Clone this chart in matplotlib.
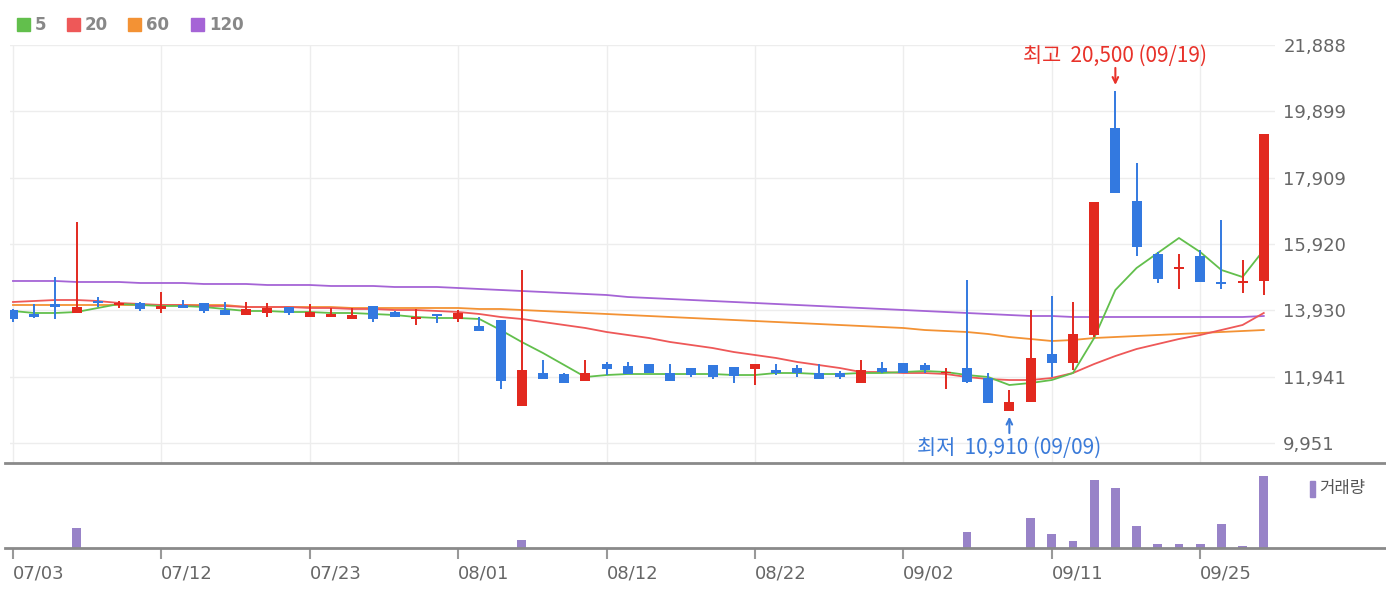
import matplotlib.pyplot as plt
from matplotlib.patches import Rectangle
from matplotlib.lines import Line2D

# daily candles, 2024-07-03 .. 2024-09-30
dates = ['07/03', '07/04', '07/05', '07/08', '07/09', '07/10', '07/11', '07/12', '07/15', '07/16',
         '07/17', '07/18', '07/19', '07/22', '07/23', '07/24', '07/25', '07/26', '07/29', '07/30',
         '07/31', '08/01', '08/02', '08/05', '08/06', '08/07', '08/08', '08/09', '08/12', '08/13',
         '08/14', '08/16', '08/19', '08/20', '08/21', '08/22', '08/23', '08/26', '08/27', '08/28',
         '08/29', '08/30', '09/02', '09/03', '09/04', '09/05', '09/06', '09/09', '09/10', '09/11',
         '09/12', '09/13', '09/19', '09/20', '09/23', '09/24', '09/25', '09/26', '09/27', '09/30']

opens = [13940, 13820, 14120, 13850, 14210, 14090, 14150, 13970, 14090, 14150,
         13940, 13790, 13850, 14030, 13730, 13730, 13670, 14060, 13880, 13670,
         13820, 13670, 13460, 13640, 11060, 12050, 12020, 11810, 12320, 12260,
         12320, 12050, 12200, 12290, 12230, 12170, 12140, 12200, 12050, 12050,
         11750, 12200, 12350, 12290, 12050, 12200, 11900, 10910, 11180, 12620,
         12350, 13190, 19400, 17210, 15620, 15170, 15560, 14780, 14750, 14810]
highs = [13960, 14120, 14930, 16580, 14330, 14210, 14180, 14480, 14240, 14150,
         14180, 14180, 14150, 14030, 14120, 14000, 14000, 14060, 13910, 13970,
         13820, 13940, 13730, 13640, 15140, 12440, 12050, 12440, 12380, 12380,
         12320, 12320, 12200, 12290, 12230, 12320, 12320, 12290, 12320, 12110,
         12440, 12380, 12350, 12350, 12200, 14840, 12050, 11540, 13940, 14360,
         14180, 17180, 20500, 18350, 15680, 15620, 15740, 16640, 15440, 19220]
lows = [13580, 13700, 13670, 13850, 14030, 14000, 13910, 13850, 14000, 13850,
        13790, 13790, 13730, 13790, 13730, 13730, 13670, 13580, 13730, 13490,
        13550, 13580, 13310, 11570, 11060, 11870, 11750, 11810, 11990, 12020,
        12050, 11810, 11930, 11870, 11750, 11690, 11990, 11930, 11870, 11870,
        11750, 12050, 12050, 12050, 11570, 11750, 11150, 10910, 11180, 11930,
        12140, 13130, 17450, 15560, 14750, 14570, 14780, 14570, 14450, 14390]
closes = [13670, 13730, 14030, 14030, 14150, 14150, 13970, 14060, 14000, 13910,
          13790, 13970, 14000, 13850, 13880, 13820, 13790, 13670, 13730, 13700,
          13760, 13850, 13310, 11810, 12140, 11870, 11750, 12050, 12170, 12020,
          12050, 11810, 11990, 11930, 11960, 12320, 12050, 12050, 11870, 11930,
          12140, 12080, 12050, 12140, 12080, 11780, 11150, 11180, 12500, 12350,
          13220, 17180, 17450, 15830, 14870, 15230, 14780, 14720, 14780, 19220]
volumes = [1500, 1500, 1500, 200000, 1500, 1500, 1500, 1500, 1500, 1500,
           1500, 1500, 1500, 1500, 1500, 1500, 1500, 1500, 1500, 1500,
           1500, 1500, 1500, 1500, 80000, 1500, 1500, 1500, 1500, 1500,
           1500, 1500, 1500, 1500, 1500, 1500, 1500, 1500, 1500, 1500,
           1500, 1500, 1500, 1500, 1500, 165000, 1500, 1500, 305000, 143000,
           66000, 680000, 600000, 220000, 43000, 43000, 43000, 240000, 23000, 720000]

ma5 = [13910, 13850, 13850, 13880, 14000, 14120, 14090, 14060, 14060, 14030,
       13970, 13910, 13910, 13880, 13880, 13850, 13850, 13820, 13790, 13730,
       13700, 13700, 13670, 13340, 12980, 12650, 12290, 11930, 11990, 12020,
       12020, 12020, 12020, 12020, 11990, 11990, 12050, 12050, 12020, 12020,
       12050, 12050, 12080, 12110, 12080, 11990, 11930, 11690, 11750, 11840,
       12050, 13100, 14540, 15200, 15650, 16100, 15680, 15140, 14930, 15740]
ma20 = [14180, 14210, 14240, 14240, 14210, 14150, 14120, 14090, 14090, 14060,
        14060, 14030, 14030, 14030, 14000, 14000, 13970, 13970, 13940, 13940,
        13910, 13880, 13820, 13730, 13670, 13580, 13490, 13400, 13280, 13190,
        13100, 12980, 12890, 12800, 12680, 12590, 12500, 12380, 12290, 12200,
        12080, 12080, 12050, 12050, 12020, 11930, 11870, 11840, 11840, 11900,
        12050, 12320, 12560, 12770, 12920, 13070, 13190, 13340, 13490, 13850]
ma60 = [14090, 14090, 14090, 14090, 14090, 14090, 14090, 14090, 14090, 14090,
        14090, 14030, 14030, 14030, 14030, 14030, 14000, 14000, 14000, 14000,
        14000, 14000, 13970, 13970, 13940, 13910, 13880, 13850, 13820, 13790,
        13760, 13730, 13700, 13670, 13640, 13610, 13580, 13550, 13520, 13490,
        13460, 13430, 13400, 13340, 13310, 13280, 13220, 13130, 13070, 13010,
        13040, 13100, 13130, 13160, 13190, 13220, 13250, 13280, 13310, 13340]
ma120 = [14810, 14810, 14810, 14780, 14780, 14780, 14750, 14750, 14750, 14720,
         14720, 14720, 14690, 14690, 14690, 14660, 14660, 14660, 14630, 14630,
         14630, 14600, 14570, 14540, 14510, 14480, 14450, 14420, 14390, 14330,
         14300, 14270, 14240, 14210, 14180, 14150, 14120, 14090, 14060, 14030,
         14000, 13970, 13940, 13910, 13880, 13850, 13820, 13790, 13760, 13760,
         13730, 13730, 13730, 13730, 13730, 13730, 13730, 13730, 13730, 13760]

yticks = [9951, 11941, 13930, 15920, 17909, 19899, 21888]
ma_labels = ['5', '20', '60', '120']
ma_colors = ['#62bf4c', '#ee5858', '#f39234', '#a564d6']

UP, DOWN = '#e2291f', '#3379e0'
W, H = 1386, 594


def fx(px):
    return px / W


def fy(py):
    return 1 - py / H


fig = plt.figure(figsize=(W / 100, H / 100), dpi=100)
ax = fig.add_axes([fx(10), fy(463), fx(1275) - fx(10), fy(45) - fy(463)])
axv = fig.add_axes([fx(10), fy(548), fx(1275) - fx(10), fy(463) - fy(548)])

xs = list(range(len(dates)))
xlim = (-0.14, len(dates) - 0.47)

# moving averages (under the candles)
for vals, c in zip([ma120, ma60, ma20, ma5], ma_colors[::-1]):
    ax.plot(xs, vals, color=c, lw=1.3, zorder=2)

# candles
for i in xs:
    o, h, l, c = opens[i], highs[i], lows[i], closes[i]
    col = UP if c >= o else DOWN
    ax.vlines(i, l, h, color=col, lw=1.4, zorder=3)
    body = max(abs(c - o), 45)
    ax.bar(i, body, bottom=min(o, c), width=0.47, color=col, zorder=4)

ax.set_xlim(*xlim)
ax.set_ylim(9351, 21888)
ax.set_yticks(yticks)
ax.set_yticklabels([f'{v:,}' for v in yticks])
ax.yaxis.tick_right()
ax.tick_params(axis='y', length=0, pad=6, labelsize=13, labelcolor='#666666')
ticks = xs[::7]
ax.set_xticks(ticks)
ax.tick_params(axis='x', length=0, labelbottom=False)
ax.grid(color='#ededed', lw=1)
ax.set_axisbelow(True)
for s in ax.spines.values():
    s.set_visible(False)

# high / low notes
hi = highs.index(max(highs))
lo = lows.index(min(lows))
kfont = ['Noto Sans CJK KR', 'DejaVu Sans']
ax.text(hi, 21560, f'최고  {highs[hi]:,} ({dates[hi]})', color='#e8322a', fontsize=15,
        family=kfont, ha='center', va='center', clip_on=False)
ax.annotate('', xy=(hi, 20690), xytext=(hi, 21200),
            arrowprops=dict(arrowstyle='->', color='#e8322a', lw=1.5, shrinkA=0, shrinkB=0))
ax.text(lo, 9800, f'최저  {lows[lo]:,} ({dates[lo]})', color='#3b7bd9', fontsize=15,
        family=kfont, ha='center', va='center', clip_on=False)
ax.annotate('', xy=(lo, 10740), xytext=(lo, 10250),
            arrowprops=dict(arrowstyle='->', color='#3b7bd9', lw=1.5, shrinkA=0, shrinkB=0))

# volume
axv.bar(xs, volumes, width=0.42, color='#9883c8')
axv.set_xlim(*xlim)
axv.set_ylim(0, 850000)
axv.set_yticks([])
axv.set_xticks(ticks)
axv.set_xticklabels([dates[t] for t in ticks])
axv.tick_params(axis='x', length=8, width=1.5, color='#999999', pad=4,
                labelsize=13, labelcolor='#666666')
for lbl in axv.get_xticklabels():
    lbl.set_ha('left')
for s in axv.spines.values():
    s.set_visible(False)

# separator and baseline
fig.add_artist(Line2D([fx(5), 1], [fy(463), fy(463)], color='#8a8a8a', lw=2))
fig.add_artist(Line2D([fx(5), 1], [fy(548), fy(548)], color='#8a8a8a', lw=2))

# legend
leg_x = [17, 67, 128, 191]
for x0, lab, c in zip(leg_x, ma_labels, ma_colors):
    fig.add_artist(Rectangle((fx(x0), fy(31)), 13 / W, 13 / H, color=c,
                             transform=fig.transFigure))
    fig.text(fx(x0 + 18), fy(24.5), lab, color='#888888', fontsize=12,
             fontweight='bold', va='center', ha='left')

fig.add_artist(Rectangle((fx(1310), fy(497)), 5 / W, 16 / H, color='#9883c8',
                         transform=fig.transFigure))
fig.text(fx(1319), fy(489), '거래량', color='#555555', fontsize=12,
         family=kfont, va='center', ha='left')

fig.savefig('out.png', dpi=100)
